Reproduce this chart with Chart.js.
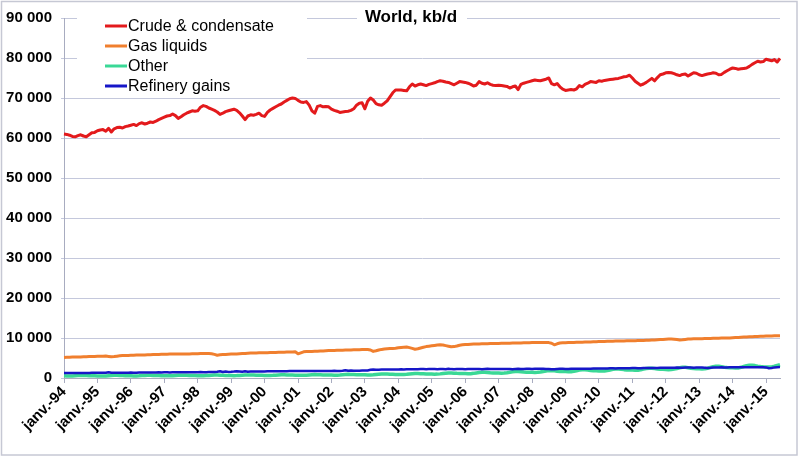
<!DOCTYPE html>
<html>
<head>
<meta charset="utf-8">
<script src="https://cdn.jsdelivr.net/npm/chart.js@4.4.1/dist/chart.umd.min.js"></script>
<style>
  html, body { margin: 0; padding: 0; background: #fff; }
  #wrap { position: relative; width: 800px; height: 458px; }
</style>
</head>
<body>
<div id="wrap"><canvas id="worldChart" width="800" height="458"></canvas></div>
<script>
// x tick labels, one per January
const yearTicks = ['janv.-94', 'janv.-95', 'janv.-96', 'janv.-97', 'janv.-98', 'janv.-99', 'janv.-00',
    'janv.-01', 'janv.-02', 'janv.-03', 'janv.-04', 'janv.-05', 'janv.-06', 'janv.-07', 'janv.-08',
    'janv.-09', 'janv.-10', 'janv.-11', 'janv.-12', 'janv.-13', 'janv.-14', 'janv.-15'];

const yTickLabels = ['0', '10 000', '20 000', '30 000', '40 000', '50 000', '60 000', '70 000', '80 000', '90 000'];

// monthly values, kb/d, Jan 1994 .. Jun 2015 (one row per year)
const crude = [
    61000, 60900, 60700, 60400, 60300, 60600, 60800, 60500, 60300, 60800, 61300, 61400,
    61800, 62000, 62100, 61700, 62400, 61500, 62300, 62600, 62700, 62500, 62850, 63000,
    63200, 63400, 63100, 63600, 63800, 63500, 63700, 64000, 63900, 64200, 64600, 64900,
    65200, 65500, 65600, 66000, 65600, 64900, 65300, 65800, 66200, 66500, 66800, 66700,
    66800, 67700, 68100, 67900, 67500, 67200, 66900, 66500, 65900, 66200, 66600, 66800,
    67000, 67200, 66900, 66300, 65500, 64600, 65500, 65800, 65700, 65900, 66200, 65600,
    65400, 66400, 67000, 67400, 67800, 68200, 68500, 69000, 69400, 69800, 70000, 69900,
    69400, 69000, 68900, 69100, 68200, 66800, 66200, 67900, 68100, 67800, 67900, 67800,
    67200, 66900, 66700, 66400, 66500, 66600, 66700, 66900, 67300, 68200, 68700, 68800,
    67300, 69200, 70000, 69500, 68600, 68300, 68200, 68700, 69300, 70300, 71300, 72000,
    72000, 72000, 71900, 71800, 72800, 73500, 73000, 73300, 73500, 73300, 73100, 73400,
    73600, 73800, 74100, 74300, 74200, 74000, 73900, 73600, 73300, 73700, 74100, 74000,
    73900, 73700, 73400, 73000, 73200, 74100, 73700, 73500, 73800, 73400, 73200, 73100,
    73200, 73100, 73000, 72900, 72500, 72800, 73000, 72100, 73400, 73700, 73900, 74100,
    74300, 74500, 74400, 74300, 74500, 74700, 75000, 73600, 73300, 73600, 72800, 72200,
    71900, 72000, 72100, 72000, 72300, 73100, 72800, 73400, 73700, 74100, 74000, 73900,
    74300, 74200, 74400, 74500, 74600, 74700, 74800, 74900, 75100, 75300, 75400, 75700,
    75000, 74200, 73700, 73200, 73500, 73900, 74400, 74900, 74300, 75100, 75800, 76000,
    76300, 76400, 76300, 76100, 75800, 75600, 75900, 76000, 75500, 75900, 76300, 76200,
    75800, 75600, 75800, 76000, 76100, 76300, 76200, 75800, 75900, 76400, 76800, 77200,
    77500, 77400, 77200, 77300, 77400, 77500, 77900, 78400, 78800, 79200, 79000, 79100,
    79700, 79500, 79300, 79600, 79000, 79900
];

const gasLiquids = [
    5150, 5180, 5200, 5220, 5250, 5260, 5280, 5300, 5320, 5350, 5380, 5400,
    5420, 5450, 5460, 5480, 5400, 5300, 5350, 5450, 5550, 5600, 5620, 5650,
    5680, 5700, 5720, 5740, 5760, 5780, 5800, 5820, 5850, 5880, 5900, 5930,
    5950, 5960, 5970, 5980, 5990, 6000, 6000, 6010, 6020, 6030, 6040, 6060,
    6080, 6100, 6120, 6150, 6100, 6050, 5900, 5700, 5800, 5850, 5900, 5950,
    5980, 6000, 6030, 6060, 6100, 6140, 6180, 6220, 6250, 6280, 6300, 6320,
    6330, 6340, 6360, 6380, 6400, 6420, 6440, 6460, 6480, 6500, 6520, 6540,
    6050, 6300, 6550, 6600, 6620, 6650, 6680, 6700, 6740, 6780, 6820, 6860,
    6880, 6900, 6920, 6940, 6960, 6980, 7000, 7020, 7040, 7060, 7080, 7100,
    7100, 7120, 7000, 6650, 6800, 7000, 7150, 7250, 7300, 7350, 7400, 7450,
    7550, 7650, 7700, 7750, 7600, 7400, 7200, 7300, 7500, 7700, 7850, 7950,
    8050, 8150, 8250, 8300, 8250, 8100, 7950, 7800, 7850, 8000, 8200, 8300,
    8350, 8400, 8450, 8480, 8500, 8520, 8540, 8560, 8580, 8600, 8620, 8640,
    8650, 8660, 8670, 8680, 8700, 8720, 8740, 8760, 8780, 8800, 8820, 8840,
    8850, 8860, 8870, 8880, 8900, 8900, 8850, 8700, 8300, 8550, 8750, 8800,
    8820, 8850, 8870, 8900, 8920, 8940, 8960, 8980, 9000, 9020, 9050, 9080,
    9100, 9120, 9140, 9160, 9180, 9200, 9220, 9240, 9260, 9280, 9300, 9320,
    9330, 9340, 9360, 9380, 9400, 9420, 9450, 9480, 9510, 9550, 9600, 9650,
    9700, 9720, 9740, 9700, 9600, 9500, 9550, 9650, 9750, 9780, 9800, 9820,
    9830, 9840, 9850, 9870, 9890, 9910, 9930, 9950, 9970, 9990, 10010, 10030,
    10060, 10100, 10140, 10180, 10220, 10260, 10300, 10340, 10380, 10400, 10420, 10450,
    10480, 10500, 10520, 10550, 10560, 10580
];

const other = [
    560, 520, 490, 500, 560, 620, 660, 650, 610, 580, 560, 540,
    530, 500, 510, 530, 580, 640, 670, 660, 630, 600, 570, 560,
    550, 520, 520, 550, 600, 650, 690, 700, 650, 620, 600, 580,
    570, 540, 550, 570, 620, 670, 710, 700, 680, 650, 620, 600,
    590, 570, 560, 600, 650, 700, 740, 740, 700, 670, 650, 630,
    620, 590, 600, 630, 680, 730, 770, 760, 730, 700, 680, 660,
    650, 620, 630, 660, 710, 770, 810, 800, 770, 740, 720, 700,
    690, 660, 670, 700, 750, 810, 850, 840, 810, 780, 760, 740,
    730, 700, 710, 750, 810, 870, 910, 900, 870, 840, 820, 800,
    790, 760, 780, 820, 890, 960, 1010, 1000, 970, 930, 910, 890,
    880, 850, 870, 920, 1000, 1080, 1130, 1120, 1080, 1040, 1010, 990,
    980, 950, 970, 1030, 1120, 1210, 1260, 1250, 1210, 1160, 1130, 1110,
    1100, 1060, 1090, 1160, 1270, 1380, 1440, 1430, 1380, 1320, 1280, 1260,
    1250, 1210, 1240, 1320, 1440, 1560, 1630, 1620, 1570, 1500, 1460, 1430,
    1420, 1380, 1410, 1500, 1630, 1770, 1850, 1840, 1780, 1700, 1650, 1620,
    1600, 1550, 1580, 1680, 1820, 1970, 2050, 2050, 1980, 1890, 1830, 1800,
    1780, 1730, 1760, 1870, 2020, 2180, 2270, 2270, 2190, 2090, 2020, 1990,
    1970, 1910, 1940, 2050, 2210, 2370, 2460, 2460, 2380, 2270, 2200, 2160,
    2130, 2070, 2100, 2220, 2390, 2570, 2670, 2670, 2580, 2460, 2380, 2340,
    2310, 2250, 2290, 2430, 2620, 2820, 2930, 2940, 2840, 2700, 2610, 2570,
    2540, 2480, 2520, 2670, 2870, 3080, 3200, 3210, 3100, 2950, 2850, 2800,
    2770, 2720, 2770, 2930, 3110, 3300
];

const refineryGains = [
    1250, 1250, 1260, 1240, 1250, 1260, 1270, 1250, 1260, 1280, 1300, 1290,
    1300, 1310, 1290, 1300, 1450, 1300, 1320, 1330, 1310, 1320, 1340, 1330,
    1350, 1340, 1330, 1400, 1380, 1360, 1370, 1380, 1390, 1400, 1410, 1400,
    1410, 1420, 1400, 1410, 1420, 1430, 1440, 1430, 1440, 1450, 1460, 1450,
    1460, 1470, 1450, 1460, 1470, 1480, 1490, 1550, 1680, 1520, 1650, 1530,
    1540, 1600, 1700, 1650, 1560, 1700, 1580, 1600, 1620, 1640, 1650, 1640,
    1650, 1660, 1670, 1680, 1690, 1700, 1690, 1700, 1710, 1720, 1730, 1720,
    1730, 1740, 1720, 1730, 1750, 1760, 1750, 1740, 1760, 1770, 1780, 1770,
    1780, 1790, 1770, 1780, 1800, 1950, 1800, 1900, 1820, 1830, 1840, 1850,
    1860, 1880, 2050, 2100, 2080, 2090, 2100, 2110, 2100, 2120, 2130, 2120,
    2150, 2160, 2140, 2180, 2200, 2190, 2210, 2200, 2220, 2230, 2210, 2220,
    2230, 2240, 2200, 2250, 2240, 2200, 2310, 2220, 2180, 2250, 2260, 2240,
    2200, 2250, 2260, 2230, 2270, 2280, 2200, 2250, 2300, 2260, 2250, 2270,
    2240, 2230, 2250, 2280, 2260, 2200, 2280, 2290, 2250, 2270, 2300, 2290,
    2280, 2300, 2310, 2290, 2300, 2280, 2260, 2200, 2180, 2250, 2290, 2300,
    2280, 2270, 2300, 2310, 2320, 2300, 2330, 2340, 2320, 2340, 2350, 2360,
    2370, 2380, 2400, 2390, 2410, 2420, 2400, 2430, 2440, 2420, 2450, 2460,
    2470, 2480, 2420, 2450, 2500, 2510, 2490, 2520, 2530, 2510, 2550, 2560,
    2580, 2570, 2560, 2590, 2600, 2580, 2590, 2600, 2610, 2600, 2590, 2620,
    2610, 2600, 2560, 2500, 2550, 2620, 2640, 2650, 2660, 2640, 2650, 2660,
    2670, 2680, 2660, 2670, 2690, 2700, 2680, 2690, 2700, 2680, 2690, 2680,
    2650, 2450, 2500, 2650, 2700, 2750
];

// category per month, January carries the year label
const months = crude.map((v, i) => (i % 12 === 0 ? yearTicks[i / 12] : ''));

const fontFamily = '"Liberation Sans", Arial, sans-serif';

const overlayPlugin = {
    id: 'overlay',
    beforeDatasetsDraw(chart) {
        const ctx = chart.ctx;
        ctx.save();
        ctx.fillStyle = '#ffffff';
        ctx.fillRect(77, 6, 230, 86);   // legend box
        ctx.fillRect(357, 4, 110, 26);  // title box
        ctx.restore();
    },
    afterDraw(chart) {
        const ctx = chart.ctx;
        ctx.save();

        // title
        ctx.fillStyle = '#000';
        ctx.font = 'bold 17px ' + fontFamily;
        ctx.textAlign = 'center';
        ctx.textBaseline = 'middle';
        ctx.fillText('World, kb/d', 411, 17);

        // legend
        ctx.font = '16px ' + fontFamily;
        ctx.textAlign = 'left';
        chart.data.datasets.forEach(function (ds, i) {
            const y = 26 + i * 20;
            ctx.strokeStyle = ds.borderColor;
            ctx.lineWidth = 3;
            ctx.beginPath();
            ctx.moveTo(105, y);
            ctx.lineTo(127, y);
            ctx.stroke();
            ctx.fillStyle = '#000';
            ctx.fillText(ds.label, 128, y + 1);
        });

        // outer frame
        ctx.strokeStyle = '#c6c8d4';
        ctx.lineWidth = 1.5;
        ctx.strokeRect(1.5, 1.5, 795.5, 453.5);
        ctx.restore();
    }
};

function createChart(id, config) {
    const ctx = document.getElementById(id);
    if (!ctx) {
        console.error(`Canvas element with id '${id}' not found`);
        return;
    }
    ctx.chart = new Chart(ctx, config);
}

createChart('worldChart', {
    type: 'line',
    data: {
        labels: months,
        datasets: [
            { label: 'Crude & condensate', data: crude, borderColor: '#e31a1c', borderWidth: 3, order: 3 },
            { label: 'Gas liquids', data: gasLiquids, borderColor: '#f07f2e', borderWidth: 3, order: 2 },
            { label: 'Other', data: other, borderColor: '#3ad896', borderWidth: 3.5, order: 1 },
            { label: 'Refinery gains', data: refineryGains, borderColor: '#1616c8', borderWidth: 2.5, order: 0 },
        ],
    },
    options: {
        responsive: false,
        animation: false,
        events: [],
        elements: {
            point: { radius: 0 },
            line: { tension: 0, fill: false, borderJoinStyle: 'round' },
        },
        layout: { padding: { top: 16, right: 20, left: 0, bottom: 0 } },
        plugins: {
            legend: { display: false },
            tooltip: { enabled: false },
        },
        scales: {
            x: {
                offset: false,
                grid: { display: true, drawOnChartArea: false, drawTicks: true, tickLength: 5, color: '#a8acc0' },
                border: { display: true, color: '#a8acc0' },
                ticks: {
                    autoSkip: false,
                    maxRotation: 45,
                    minRotation: 45,
                    padding: 0,
                    color: '#000',
                    font: { family: fontFamily, size: 15, weight: 'bold' },
                    callback: function (value, index) {
                        return index % 12 === 0 ? this.getLabelForValue(value) : null;
                    },
                },
                afterFit: function (scale) { scale.height = 80; },
            },
            y: {
                min: 0,
                max: 90000,
                grid: { color: '#c4c8dc', tickLength: 3 },
                border: { display: true, color: '#a8acc0' },
                ticks: {
                    stepSize: 10000,
                    padding: 9,
                    color: '#000',
                    font: { family: fontFamily, size: 15, weight: 'bold' },
                    callback: function (value) { return yTickLabels[Math.round(value / 10000)]; },
                },
                afterFit: function (scale) { scale.width = 64; },
            },
        },
    },
    plugins: [overlayPlugin],
});
</script>
</body>
</html>
